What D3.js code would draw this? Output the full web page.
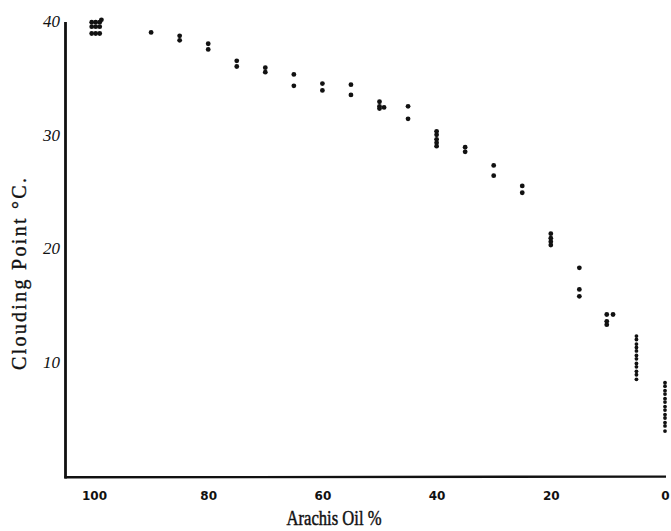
<!DOCTYPE html>
<html>
<head>
<meta charset="utf-8">
<script src="https://cdn.jsdelivr.net/npm/d3@7"></script>
<style>
  html, body { margin: 0; padding: 0; background: #fff; }
  svg { display: block; }
</style>
</head>
<body>
<div id="chart"></div>
<script>
// Arachis oil content (%) of each group of readings; a few groups sit slightly
// off the round value because overlapping dots were printed side by side.
const oilPct = [
  100.4, 99.7, 99.0, 98.7,
  90, 85, 80, 75, 70, 65, 60, 55,
  50, 49.2,
  45, 40, 35, 30, 25, 20, 15,
  10.2, 9.1,
  5, 0
];

// Clouding points (°C) observed for the matching oil content.
const cloudPt = [
  [39.9, 39.5, 38.9], [39.9, 39.5, 38.9], [39.9, 39.5, 38.9], [40.1],
  [39.0], [38.7, 38.3], [38.0, 37.5], [36.5, 36.0], [35.9, 35.5],
  [35.3, 34.3], [34.5, 33.9], [34.4, 33.5],
  [32.9, 32.5, 32.3], [32.4],
  [32.5, 31.4], [30.3, 30.0, 29.6, 29.3, 29.0], [28.9, 28.5],
  [27.3, 26.4], [25.5, 24.9], [21.3, 20.9, 20.6, 20.3], [18.3, 16.4, 15.8],
  [14.2, 13.6, 13.3], [14.2],
  [12.3, 12.0, 11.6, 11.3, 11.0, 10.6, 10.3, 9.9, 9.6, 9.2, 8.9, 8.5],
  [8.2, 7.9, 7.5, 7.2, 6.8, 6.5, 6.1, 5.8, 5.4, 5.1, 4.7, 4.4, 3.95]
];

const xTicks = [100, 80, 60, 40, 20, 0];
const yTicks = [10, 20, 30, 40];

const xTitle = "Arachis Oil %";
const yTitle = "Clouding Point °C.";

const W = 671, H = 531;

const points = [];
oilPct.forEach((p, i) => {
  cloudPt[i].forEach(t => points.push({ p, t, dense: cloudPt[i].length > 6 }));
});

const x = d3.scaleLinear().domain([100, 0]).range([94, 665]);
const y = d3.scaleLinear().domain([0, 40]).range([476, 21]);

const svg = d3.select("#chart").append("svg")
  .attr("width", W).attr("height", H)
  .attr("viewBox", `0 0 ${W} ${H}`);

svg.append("rect").attr("width", W).attr("height", H).attr("fill", "#fff");

const ink = "#111";

// Axes: a heavy left rule and a bottom rule, no tick marks.
const xAxis = d3.axisBottom(x).tickValues(xTicks).tickSize(0).tickPadding(14)
  .tickFormat(d3.format("d"));
const yAxis = d3.axisLeft(y).tickValues(yTicks).tickSize(0).tickPadding(5)
  .tickFormat(d3.format("d"));

const gx = svg.append("g").attr("transform", `translate(0,${y(0) + 1})`).call(xAxis);
gx.select(".domain").remove();
gx.selectAll("text")
  .attr("fill", ink)
  .attr("font-family", "'DejaVu Sans', sans-serif")
  .attr("font-weight", "bold")
  .attr("font-size", 12);

const gy = svg.append("g").attr("transform", `translate(66,0)`).call(yAxis);
gy.select(".domain").remove();
gy.selectAll("text")
  .attr("fill", ink)
  .attr("font-family", "'Liberation Serif', serif")
  .attr("font-style", "italic")
  .attr("font-size", 17)
  .attr("dx", -1);

svg.append("line")
  .attr("x1", 65.5).attr("x2", 65.5)
  .attr("y1", y(40) + 1).attr("y2", y(0) + 2.5)
  .attr("stroke", ink).attr("stroke-width", 2.8);

svg.append("line")
  .attr("x1", 64.5).attr("x2", x(0) + 1)
  .attr("y1", y(0) + 1.3).attr("y2", y(0) + 0.6)
  .attr("stroke", ink).attr("stroke-width", 2.4);

// Readings
svg.append("g").selectAll("circle")
  .data(points)
  .join("circle")
  .attr("cx", d => x(d.p))
  .attr("cy", d => y(d.t))
  .attr("r", d => d.dense ? 1.9 : 2.4)
  .attr("fill", ink);

// Titles, set in a serif with a slightly heavier stroke
svg.append("text")
  .attr("x", 334).attr("y", 525)
  .attr("text-anchor", "middle")
  .attr("font-family", "'Liberation Serif', serif")
  .attr("font-size", 20)
  .attr("textLength", 95)
  .attr("lengthAdjust", "spacingAndGlyphs")
  .attr("fill", ink)
  .attr("stroke", ink)
  .attr("stroke-width", 0.45)
  .text(xTitle);

svg.append("text")
  .attr("transform", "translate(26,274) rotate(-90)")
  .attr("text-anchor", "middle")
  .attr("font-family", "'Liberation Serif', serif")
  .attr("font-size", 20)
  .attr("textLength", 192)
  .attr("lengthAdjust", "spacing")
  .attr("fill", ink)
  .attr("stroke", ink)
  .attr("stroke-width", 0.35)
  .text(yTitle);
</script>
</body>
</html>
